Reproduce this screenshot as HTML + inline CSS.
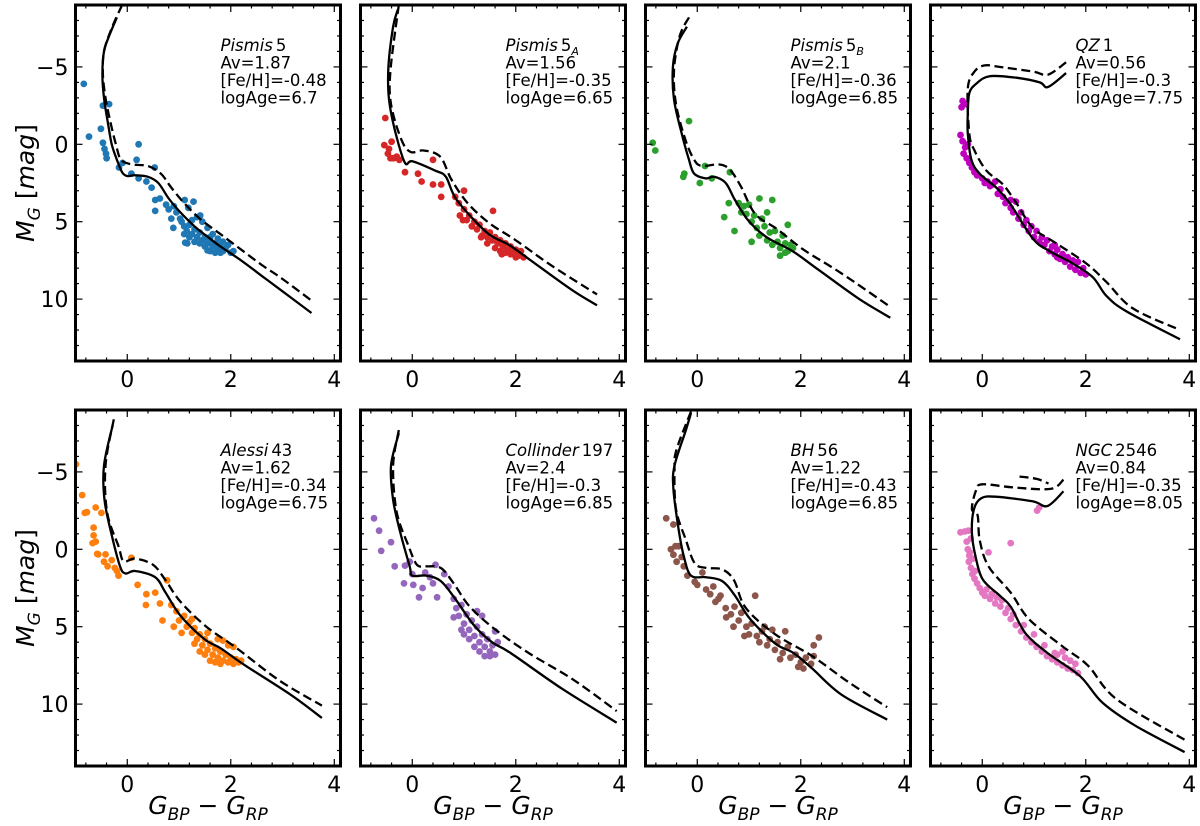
<!DOCTYPE html>
<html><head><meta charset="utf-8">
<style>
html,body{margin:0;padding:0;background:#fff;}
svg{display:block;font-family:"DejaVu Sans","Liberation Sans",sans-serif;}
</style></head>
<body>
<svg id="fig" width="1200" height="826" viewBox="0 0 1200 826" xmlns="http://www.w3.org/2000/svg"></svg>
<script>
// ---- data (color G_BP-G_RP, magnitude M_G) ----
const clusterNames = ["Pismis","Pismis","Pismis","QZ","Alessi","Collinder","BH","NGC"];
const clusterNums = ["5","5","5","1","43","197","56","2546"];
const clusterSubs = ["","A","B","","","","",""];
const avValues = ["1.87","1.56","2.1","0.56","1.62","2.4","1.22","0.84"];
const fehValues = ["-0.48","-0.35","-0.36","-0.3","-0.34","-0.3","-0.43","-0.35"];
const ageValues = ["6.7","6.65","6.85","7.75","6.75","6.85","6.85","8.05"];
const pointColors = ["#1f77b4","#d62728","#2ca02c","#bf00bf","#ff7f0e","#9467bd","#8c564b","#e377c2"];
const xTicks = [0,2,4];
const yTicks = [-5,0,5,10];
const yTickLabels = ["\u22125","0","5","10"];

const solid1 = [[-0.2,-8.2],[-0.35,-7.0],[-0.45,-6],[-0.48,-4.5],[-0.45,-3],[-0.38,-1.5],[-0.3,0],[-0.2,1],[-0.1,1.8],[0.0,2.05],[0.15,2.0],[0.4,2.1],[0.6,2.5],[0.8,3.5],[1.0,4.3],[1.3,5.3],[1.6,6.1],[1.8,6.6],[2.2,7.5],[2.6,8.5],[3.0,9.5],[3.56,10.9]];
const dash1 = [[-0.1,-9],[-0.3,-7.5],[-0.45,-6],[-0.47,-4.5],[-0.42,-3],[-0.33,-1.5],[-0.22,0],[-0.12,1],[0.1,1.3],[0.4,1.4],[0.65,1.9],[0.85,2.8],[1.1,3.8],[1.4,4.8],[1.8,5.8],[2.2,6.8],[2.6,7.8],[3.0,8.7],[3.56,10.1]];
const pts1 = [[-0.84,-3.9],[-0.74,-0.5],[-0.51,-1.0],[-0.47,-2.5],[-0.35,-2.6],[-0.47,-0.1],[-0.44,0.3],[-0.41,0.6],[-0.4,0.9],[-0.16,1.5],[-0.09,1.2],[0.08,1.9],[0.18,1.0],[0.22,0.0],[0.22,2.2],[0.37,2.4],[0.47,2.8],[0.53,1.5],[0.54,3.6],[0.54,4.3],[0.63,3.5],[0.8,4.2],[0.89,5.4],[0.95,4.4],[1.11,3.6],[1.18,4.1],[1.16,6.4],[1.02,4.8],[1.41,4.6],[1.05,5.0],[1.1,5.3],[1.15,5.6],[1.2,5.2],[1.25,5.8],[1.3,5.5],[1.35,6.0],[1.4,5.7],[1.45,6.2],[1.5,6.0],[1.55,6.4],[1.6,6.2],[1.65,6.6],[1.7,6.4],[1.75,6.8],[1.8,6.6],[1.85,6.9],[1.9,6.7],[2.0,7.0],[2.05,6.9],[1.6,6.9],[1.7,7.0],[1.5,6.6],[1.4,6.4],[1.3,6.3],[1.2,6.0],[1.1,5.8],[1.25,4.9],[1.35,4.7],[1.45,5.0],[1.55,5.4],[1.65,5.8],[1.75,6.1],[1.85,6.3],[1.95,6.5],[1.12,6.35],[1.55,6.85],[0.85,4.8],[0.9,4.0],[0.75,3.9],[1.28,3.7],[1.6,6.0],[1.75,6.5],[1.8,7.0]];

const solid2 = [[-0.28,-8.7],[-0.37,-7.6],[-0.46,-5.0],[-0.45,-2.9],[-0.32,-0.7],[-0.14,1.2],[0.0,1.1],[0.44,1.7],[0.65,2.1],[0.86,3.6],[1.44,5.7],[1.87,6.5],[2.29,7.5],[3.08,9.4],[3.57,10.4]];
const dash2 = [[-0.26,-9.0],[-0.42,-4.8],[-0.41,-2.6],[-0.21,-0.3],[-0.03,0.5],[0.22,0.4],[0.54,0.8],[0.76,2.3],[1.07,3.8],[1.49,5.1],[2.0,6.2],[2.72,7.9],[3.57,9.7]];
const pts2 = [[-0.52,-1.7],[-0.54,0.05],[-0.4,-0.17],[-0.47,0.6],[-0.36,0.9],[-0.25,1.0],[-0.14,1.8],[0.11,1.9],[0.18,2.4],[0.4,1.0],[0.4,2.6],[0.56,2.6],[0.56,3.4],[0.92,4.6],[0.83,3.4],[1.0,3.0],[0.98,4.9],[1.56,4.3],[1.73,7.1],[1.33,6.0],[-0.45,0.3],[-0.3,0.8],[-0.42,0.9],[0.9,3.8],[1.0,4.2],[1.1,4.6],[1.2,5.0],[1.25,5.5],[1.3,5.2],[1.4,5.6],[1.45,6.0],[1.5,5.7],[1.55,6.2],[1.6,6.0],[1.65,6.4],[1.7,6.2],[1.75,6.6],[1.8,6.4],[1.85,6.8],[1.9,6.6],[1.95,7.0],[2.0,6.8],[2.05,7.2],[2.1,6.9],[2.15,7.3],[1.6,6.7],[1.7,6.9],[1.8,7.0],[1.45,6.4],[1.35,5.9],[1.15,5.3],[1.05,4.9],[2.0,7.3],[1.9,7.1]];

const solid3 = [[-0.2,-7.6],[-0.38,-6.5],[-0.47,-5.0],[-0.45,-2.9],[-0.3,-0.7],[-0.16,1.0],[-0.06,1.9],[0.16,2.2],[0.33,2.1],[0.55,2.5],[0.73,3.6],[0.98,4.9],[1.34,6.0],[1.84,6.9],[2.34,8.1],[3.13,10.0],[3.73,11.2]];
const dash3 = [[-0.16,-8.2],[-0.34,-7.0],[-0.45,-4.8],[-0.41,-2.6],[-0.23,-0.3],[-0.06,1.0],[0.09,1.4],[0.41,1.3],[0.62,1.6],[0.84,2.7],[1.12,4.5],[1.55,5.5],[2.05,6.8],[2.77,8.3],[3.73,10.5]];
const pts3 = [[-0.86,-0.1],[-0.81,0.4],[-0.16,-1.5],[-0.25,1.9],[-0.27,2.1],[0.05,2.5],[0.15,1.4],[0.28,2.2],[0.63,1.8],[0.52,4.7],[0.61,3.8],[0.72,5.6],[0.8,3.8],[0.9,4.0],[0.95,4.5],[1.0,3.9],[1.05,5.0],[1.1,4.6],[1.15,5.4],[1.2,5.9],[1.25,4.8],[1.3,5.3],[1.35,6.2],[1.4,5.7],[1.45,6.5],[1.5,5.6],[1.55,6.3],[1.6,6.7],[1.65,5.9],[1.7,6.4],[1.75,6.9],[1.8,6.5],[1.85,6.7],[1.6,7.2],[1.7,7.0],[1.05,6.3],[0.85,4.4],[1.35,4.4],[1.45,3.6],[1.2,3.5],[1.75,5.2]];

const solid4 = [[1.62,-4.6],[1.27,-3.7],[1.11,-4.0],[0.66,-4.3],[0.14,-4.4],[-0.12,-3.9],[-0.25,-3.3],[-0.28,-1.9],[-0.28,-0.7],[-0.21,1.0],[-0.05,1.9],[0.27,2.8],[0.53,3.8],[0.98,6.1],[1.3,6.9],[1.75,7.7],[2.14,8.6],[2.4,9.8],[2.79,10.8],[3.82,12.6]];
const dash4 = [[1.62,-5.3],[1.27,-4.5],[0.98,-4.7],[0.33,-5.0],[0.05,-5.1],[-0.15,-4.7],[-0.28,-3.6],[-0.25,-0.7],[-0.15,0.4],[0.08,1.7],[0.4,2.6],[0.66,3.8],[0.98,5.4],[1.43,6.4],[2.01,7.7],[2.4,8.9],[2.91,10.6],[3.82,12.0]];
const pts4 = [[-0.4,-2.4],[-0.38,-2.8],[-0.32,-2.6],[-0.42,-0.6],[-0.38,-0.2],[-0.33,0.2],[-0.36,0.6],[-0.28,0.0],[-0.3,0.9],[-0.25,1.2],[-0.2,1.5],[-0.15,1.8],[-0.1,2.0],[0.0,2.2],[0.1,2.4],[0.2,2.6],[0.3,3.2],[0.4,3.4],[0.45,3.8],[0.55,4.1],[0.6,4.4],[0.7,4.8],[0.8,5.2],[0.9,5.6],[1.0,6.0],[1.1,6.3],[1.2,6.5],[1.3,6.9],[1.4,7.1],[1.5,7.4],[1.6,7.6],[1.7,7.9],[1.8,8.1],[1.9,8.3],[2.0,8.4],[1.95,8.0],[0.65,3.7],[0.85,4.9],[1.05,5.6],[1.25,6.2],[1.45,6.8],[1.65,7.3],[1.85,7.6],[0.35,2.9],[0.15,2.7],[0.55,3.6],[0.75,4.4],[0.95,5.3],[1.15,6.0],[1.35,6.6],[1.55,7.1],[1.75,7.5],[0.25,2.4],[1.4,6.5],[1.45,7.3],[0.05,2.5]];

const solid5 = [[-0.28,-8.05],[-0.45,-5.4],[-0.44,-3.2],[-0.31,-1.06],[-0.14,1.1],[-0.03,1.56],[0.15,1.4],[0.54,1.8],[0.74,2.8],[1.03,4.3],[1.49,5.8],[1.81,6.4],[2.23,7.4],[3.16,9.4],[3.76,10.9]];
const dash5 = [[-0.26,-8.4],[-0.42,-5.4],[-0.39,-2.4],[-0.17,-0.2],[-0.07,0.77],[0.15,0.6],[0.5,1.0],[0.74,2.0],[1.03,3.4],[1.53,5.0],[2.1,6.35],[2.95,8.5],[3.76,10.1]];
const pts5 = [[-0.99,-5.5],[-0.87,-3.5],[-0.82,-2.35],[-0.78,-2.4],[-0.61,-2.7],[-0.5,-2.35],[-0.65,-1.4],[-0.65,-0.9],[-0.61,-0.5],[-0.67,-0.4],[-0.58,0.3],[-0.56,0.33],[-0.42,0.33],[-0.38,1.1],[-0.24,1.2],[-0.17,1.7],[0.08,0.55],[0.2,2.3],[0.37,2.9],[0.36,3.6],[0.54,2.8],[0.63,3.5],[0.77,2.0],[0.68,4.6],[-0.3,0.7],[-0.45,0.8],[-0.2,1.4],[0.85,3.6],[0.95,4.0],[1.0,4.6],[1.1,4.3],[1.15,5.0],[1.2,4.7],[1.25,5.4],[1.3,5.1],[1.35,5.8],[1.4,5.5],[1.45,6.2],[1.5,5.8],[1.55,6.5],[1.6,6.1],[1.65,6.8],[1.7,6.4],[1.75,7.0],[1.8,6.6],[1.85,7.2],[1.9,6.8],[1.95,7.3],[2.0,7.0],[2.05,7.4],[2.1,7.1],[2.15,7.3],[2.2,7.2],[1.5,6.8],[1.6,7.2],[1.7,7.3],[1.8,7.4],[1.4,6.6],[1.55,5.4],[1.75,5.8],[1.85,5.9],[1.95,6.2],[2.05,6.3],[1.25,4.5],[1.05,5.4],[1.3,6.1],[0.9,5.0]];

const solid6 = [[-0.26,-7.5],[-0.41,-5.4],[-0.37,-3.2],[-0.23,-1.06],[-0.05,1.1],[0.0,1.7],[0.27,1.7],[0.55,2.05],[0.83,3.2],[1.19,4.9],[1.54,6.0],[1.9,6.7],[2.89,9.0],[3.95,11.2]];
const dash6 = [[-0.26,-7.7],[-0.37,-5.4],[-0.3,-2.4],[-0.07,-0.2],[0.09,1.0],[0.27,1.1],[0.55,1.2],[0.8,2.2],[1.11,3.7],[1.61,5.2],[2.25,6.7],[3.1,8.4],[3.95,10.45]];
const pts6 = [[-0.74,-2.0],[-0.64,-1.2],[-0.41,-0.46],[-0.6,0.1],[-0.34,1.1],[-0.14,1.05],[-0.05,0.8],[0.0,1.6],[-0.16,2.2],[0.02,2.3],[0.13,3.1],[0.2,2.5],[0.45,1.0],[0.48,3.1],[0.34,1.8],[0.62,1.6],[0.25,1.5],[0.4,2.2],[0.7,2.4],[0.8,3.2],[0.85,3.8],[0.9,4.3],[0.95,3.6],[1.0,4.8],[1.05,4.2],[1.1,5.2],[1.15,4.6],[1.2,5.6],[1.25,5.0],[1.3,6.0],[1.35,5.5],[1.4,6.3],[1.45,5.8],[1.5,6.6],[1.55,6.2],[1.6,6.8],[1.3,6.6],[1.4,6.9],[1.5,6.9],[1.2,6.3],[1.1,5.8],[1.0,5.5],[1.35,4.3],[1.25,4.0],[1.6,5.3],[1.65,6.0],[0.95,5.2],[0.8,4.4]];

const solid7 = [[-0.12,-8.8],[-0.22,-7.7],[-0.44,-5.4],[-0.46,-3.9],[-0.37,-1.5],[-0.26,0.45],[-0.12,1.7],[0.17,1.8],[0.48,2.05],[0.73,3.0],[1.02,4.5],[1.51,6.1],[1.86,6.7],[2.22,7.7],[2.79,9.4],[3.67,11.0]];
const dash7 = [[-0.12,-8.9],[-0.4,-6.45],[-0.44,-5.2],[-0.41,-2.6],[-0.22,-0.6],[-0.05,0.9],[0.17,1.2],[0.48,1.3],[0.71,2.0],[0.94,3.8],[1.51,5.5],[2.22,6.9],[2.93,8.6],[3.67,10.2]];
const pts7 = [[-0.6,-2.0],[-0.46,-1.6],[-0.42,-0.2],[-0.51,0.0],[-0.46,0.35],[-0.36,-0.2],[-0.26,1.1],[-0.19,1.7],[0.1,1.5],[-0.05,2.1],[0.17,2.6],[0.31,2.4],[0.41,3.2],[0.56,4.4],[0.72,3.7],[1.12,3.0],[0.7,5.0],[0.91,5.6],[2.35,5.7],[2.25,6.2],[1.7,5.3],[-0.4,0.8],[-0.3,0.5],[0.0,2.3],[0.25,2.9],[0.35,3.4],[0.45,3.0],[0.55,3.8],[0.65,4.2],[0.8,4.6],[0.85,4.1],[0.95,5.0],[1.0,5.5],[1.05,4.8],[1.15,5.6],[1.2,6.0],[1.25,5.3],[1.35,6.2],[1.4,5.8],[1.5,6.5],[1.55,6.0],[1.65,6.7],[1.75,6.3],[1.8,7.0],[1.9,6.8],[2.0,7.3],[2.1,7.0],[2.2,7.4],[2.25,6.9],[1.95,7.6],[2.05,7.7],[1.6,7.1],[1.3,5.0],[1.45,5.2]];

const solid8 = [[1.57,-3.75],[1.26,-2.8],[0.97,-3.1],[0.26,-3.4],[-0.02,-3.3],[-0.16,-2.6],[-0.2,-1.06],[-0.13,0.45],[0.01,1.95],[0.34,3.0],[0.55,3.7],[0.83,5.4],[1.26,6.7],[1.89,8.2],[2.32,9.9],[2.96,11.4],[3.91,13.1]];
const dash8 = [[1.57,-4.5],[1.32,-3.9],[0.6,-4.0],[0.0,-4.2],[-0.12,-3.8],[-0.2,-2.6],[-0.09,-2.2],[-0.05,-0.6],[0.12,1.1],[0.55,2.8],[0.9,4.5],[1.54,6.25],[2.04,7.5],[2.6,9.7],[3.91,12.3]];
const dash8b = [[0.72,-4.7],[1.05,-4.55],[1.28,-4.25]];
const pts8 = [[-0.42,-1.1],[-0.34,-1.15],[-0.27,-1.2],[-0.3,-0.5],[-0.28,0.0],[-0.25,0.4],[-0.26,0.8],[-0.22,1.2],[-0.19,1.6],[-0.15,1.9],[-0.1,2.2],[-0.05,2.5],[0.0,2.8],[0.05,3.0],[0.15,3.2],[0.25,3.5],[0.35,3.7],[0.45,4.1],[0.55,4.5],[0.65,4.9],[0.75,5.3],[0.85,5.7],[0.95,6.0],[1.05,6.3],[1.15,6.6],[1.25,6.9],[1.35,7.1],[1.45,7.3],[1.55,7.5],[1.65,7.7],[1.75,7.8],[1.85,8.0],[1.45,6.8],[1.7,7.2],[0.55,-0.4],[0.12,0.2],[1.06,-2.5],[1.1,-2.7],[-0.24,0.2],[-0.22,-0.7],[-0.18,0.6],[-0.14,1.4],[0.08,2.6],[0.18,2.9],[0.38,3.3],[0.6,4.2],[0.8,4.9],[1.0,5.5],[1.2,6.2],[1.4,6.7],[1.6,7.0],[1.8,7.4],[1.55,6.6],[0.28,3.1],[0.5,3.8]];

const solidLines = [solid1,solid2,solid3,solid4,solid5,solid6,solid7,solid8];
const dashLines = [[dash1],[dash2],[dash3],[dash4],[dash5],[dash6],[dash7],[dash8,dash8b]];
const pointSets = [pts1,pts2,pts3,pts4,pts5,pts6,pts7,pts8];

// ---- layout ----
const NS = "http://www.w3.org/2000/svg";
const svg = document.getElementById("fig");
const PW = 265, XMIN = -1.0, XMAX = 4.12, YMIN = -9, YMAX = 14;
const lefts = [75.5, 360.5, 645.5, 930.5];
const tops = [5, 410];
const PH = 356;
function mk(tag, attrs, parent){ const e=document.createElementNS(NS,tag); for(const k in attrs) e.setAttribute(k,attrs[k]); (parent||svg).appendChild(e); return e; }
function smoothPath(P){
  let d = "M"+P[0][0].toFixed(1)+","+P[0][1].toFixed(1);
  for (let k=0;k<P.length-1;k++){
    const p0=P[Math.max(k-1,0)], p1=P[k], p2=P[k+1], p3=P[Math.min(k+2,P.length-1)];
    const c1=[p1[0]+(p2[0]-p0[0])/6, p1[1]+(p2[1]-p0[1])/6];
    const c2=[p2[0]-(p3[0]-p1[0])/6, p2[1]-(p3[1]-p1[1])/6];
    d += "C"+c1[0].toFixed(1)+","+c1[1].toFixed(1)+" "+c2[0].toFixed(1)+","+c2[1].toFixed(1)+" "+p2[0].toFixed(1)+","+p2[1].toFixed(1);
  }
  return d;
}

for (let i=0;i<8;i++){
  const L = lefts[i%4], T = tops[Math.floor(i/4)];
  const sx = c => L + (c-XMIN)/(XMAX-XMIN)*PW;
  const sy = m => T + (m-YMIN)/(YMAX-YMIN)*PH;
  const g = mk("g",{});
  
  
  const clipId = "clip"+i;
  const cp = mk("clipPath",{id:clipId},g);
  mk("rect",{x:L,y:T,width:PW,height:PH},cp);
  const plot = mk("g",{"clip-path":"url(#"+clipId+")"},g);
  pointSets[i].forEach(p=>{
    const c = mk("circle",{cx:sx(p[0]).toFixed(1),cy:sy(p[1]).toFixed(1),r:3.4,fill:pointColors[i]},plot);
    
    
  });
  const solidPath = mk("path",{d:smoothPath(solidLines[i].map(p=>[sx(p[0]),sy(p[1])])),fill:"none",stroke:"#000","stroke-width":2.3,"stroke-linejoin":"round"},plot);
  
  
  dashLines[i].forEach(dl=>{
    const dp = mk("path",{d:smoothPath(dl.map(p=>[sx(p[0]),sy(p[1])])),fill:"none",stroke:"#000","stroke-width":2.3,"stroke-dasharray":"9,4.5"},plot);
    
    
  });
  for (let v=-0.8; v<=4.1; v+=0.4){
    const vv = Math.round(v*10)/10; const major = xTicks.includes(vv); const len = major?7:3.5;
    const x = sx(vv);
    mk("line",{x1:x,x2:x,y1:T+PH,y2:T+PH-len,stroke:"#000","stroke-width":1.2},g);
    mk("line",{x1:x,x2:x,y1:T,y2:T+len,stroke:"#000","stroke-width":1.2},g);
  }
  for (let v=-8; v<=13; v++){
    const major = yTicks.includes(v); const len = major?7:3.5; const y = sy(v);
    mk("line",{x1:L,x2:L+len,y1:y,y2:y,stroke:"#000","stroke-width":1.2},g);
    mk("line",{x1:L+PW,x2:L+PW-len,y1:y,y2:y,stroke:"#000","stroke-width":1.2},g);
  }
  xTicks.forEach(v=>{
    const t = mk("text",{x:sx(v),y:T+PH+26,"text-anchor":"middle","font-size":22,fill:"#000"},g);
    t.textContent = String(v);
    
    
  });
  if (i%4===0){
    yTicks.forEach((v,k)=>{
      const t = mk("text",{x:L-7,y:sy(v)+8,"text-anchor":"end","font-size":22,fill:"#000"},g);
      t.textContent = yTickLabels[k];
      
      
    });
  }
  const fr = mk("rect",{x:L,y:T,width:PW,height:PH,fill:"none",stroke:"#000","stroke-width":3},g);
  
  
  const ax = L+145, ay = T+46;
  const ann = mk("text",{x:ax,y:ay,"font-size":16.5,fill:"#000"},g);
  
  
  const t1 = mk("tspan",{x:ax,y:ay,"font-style":"italic"},ann); t1.textContent = clusterNames[i];
  const t2 = mk("tspan",{dx:3},ann); t2.textContent = clusterNums[i];
  if (clusterSubs[i]){ const t3 = mk("tspan",{"font-size":11,dy:4,"font-style":"italic"},ann); t3.textContent = clusterSubs[i]; }
  const l2 = mk("tspan",{x:ax,y:ay+17.5},ann); l2.textContent = "Av="+avValues[i];
  const l3 = mk("tspan",{x:ax,y:ay+35},ann); l3.textContent = "[Fe/H]="+fehValues[i];
  const l4 = mk("tspan",{x:ax,y:ay+52.5},ann); l4.textContent = "logAge="+ageValues[i];
  if (i>=4){
    const xl = mk("text",{x:L+PW/2,y:814,"text-anchor":"middle","font-size":25,fill:"#000"},g);
    
    
    xl.innerHTML = '<tspan font-style="italic">G</tspan><tspan font-size="17" dy="6" font-style="italic">BP</tspan><tspan dy="-6"> \u2212 </tspan><tspan font-style="italic">G</tspan><tspan font-size="17" dy="6" font-style="italic">RP</tspan>';
  }
  if (i%4===0){
    const cy = T+PH/2;
    const yl = mk("text",{x:0,y:0,"text-anchor":"middle","font-size":25,fill:"#000",transform:"translate(34,"+cy+") rotate(-90)"},g);
    
    
    yl.innerHTML = '<tspan font-style="italic">M</tspan><tspan font-size="17" dy="6" font-style="italic">G</tspan><tspan dy="-6"> [</tspan><tspan font-style="italic">mag</tspan><tspan>]</tspan>';
  }
}
</script>
</body></html>
